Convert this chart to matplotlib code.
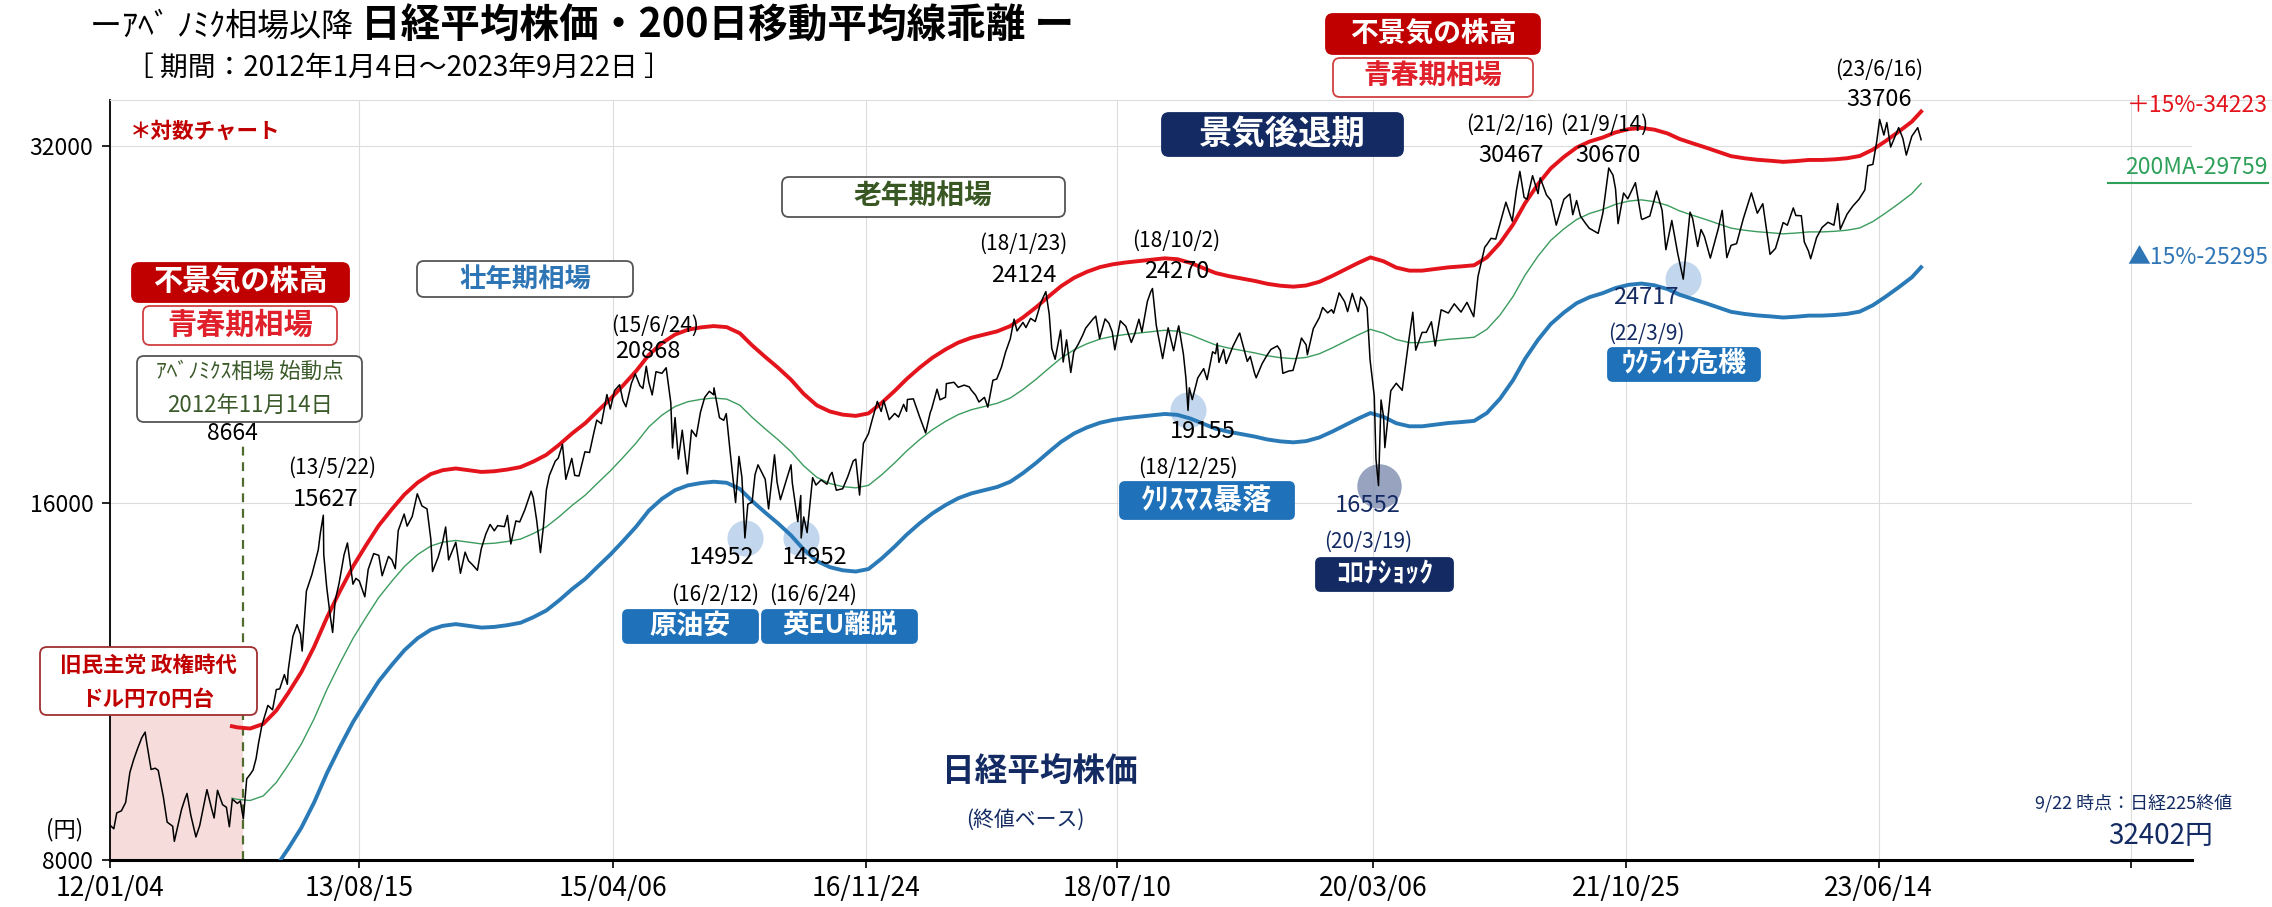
import matplotlib
matplotlib.use('Agg')
import matplotlib.pyplot as plt
import matplotlib.dates as mdates
from matplotlib.patches import FancyBboxPatch
from matplotlib.ticker import NullLocator, NullFormatter
import numpy as np
import pandas as pd

plt.rcParams['font.family'] = ['Noto Sans CJK JP', 'DejaVu Sans']

# ---- data ----
price_dates = [
    '2012-01-04', '2012-01-13', '2012-01-20', '2012-01-31', '2012-02-10', '2012-02-20', '2012-02-29',
    '2012-03-09', '2012-03-19', '2012-03-27', '2012-03-30', '2012-04-10', '2012-04-20', '2012-04-27',
    '2012-05-09', '2012-05-18', '2012-05-31', '2012-06-04', '2012-06-13', '2012-06-21', '2012-06-29',
    '2012-07-04', '2012-07-13', '2012-07-25', '2012-08-03', '2012-08-20', '2012-08-31', '2012-09-06',
    '2012-09-14', '2012-09-26', '2012-10-05', '2012-10-12', '2012-10-19', '2012-10-31', '2012-11-07',
    '2012-11-14', '2012-11-22', '2012-11-30', '2012-12-07', '2012-12-14', '2012-12-20', '2012-12-28',
    '2013-01-11', '2013-01-22', '2013-01-31', '2013-02-08', '2013-02-19', '2013-02-26', '2013-02-28',
    '2013-03-11', '2013-03-21', '2013-03-29', '2013-04-02', '2013-04-12', '2013-04-25', '2013-05-10',
    '2013-05-15', '2013-05-22', '2013-05-23', '2013-05-30', '2013-06-07', '2013-06-13', '2013-06-19',
    '2013-06-28', '2013-07-10', '2013-07-18', '2013-07-31', '2013-08-07', '2013-08-15', '2013-08-28',
    '2013-09-05', '2013-09-18', '2013-09-30', '2013-10-08', '2013-10-23', '2013-10-31', '2013-11-08',
    '2013-11-15', '2013-11-29', '2013-12-06', '2013-12-18', '2013-12-30',
    '2014-01-10', '2014-01-22', '2014-01-31', '2014-02-04', '2014-02-17', '2014-02-28', '2014-03-07',
    '2014-03-14', '2014-03-31', '2014-04-11', '2014-04-22', '2014-04-30', '2014-05-09', '2014-05-21',
    '2014-05-30', '2014-06-10', '2014-06-20', '2014-06-30', '2014-07-08', '2014-07-24', '2014-07-31',
    '2014-08-08', '2014-08-20', '2014-08-29', '2014-09-10', '2014-09-25', '2014-09-30', '2014-10-08',
    '2014-10-17', '2014-10-24', '2014-10-31', '2014-11-07', '2014-11-21', '2014-11-28', '2014-12-08',
    '2014-12-16', '2014-12-30',
    '2015-01-06', '2015-01-16', '2015-01-30', '2015-02-10', '2015-02-20', '2015-02-27', '2015-03-10',
    '2015-03-23', '2015-03-31', '2015-04-10', '2015-04-22', '2015-04-30', '2015-05-07', '2015-05-20',
    '2015-05-29', '2015-06-09', '2015-06-16', '2015-06-24', '2015-06-30', '2015-07-08', '2015-07-17',
    '2015-07-31', '2015-08-10', '2015-08-21', '2015-08-25', '2015-08-31', '2015-09-08', '2015-09-17',
    '2015-09-29', '2015-10-09', '2015-10-20', '2015-10-30', '2015-11-09', '2015-11-20', '2015-11-30',
    '2015-12-01', '2015-12-14', '2015-12-24', '2015-12-30',
    '2016-01-08', '2016-01-21', '2016-01-29', '2016-02-05', '2016-02-12', '2016-02-19', '2016-02-29',
    '2016-03-07', '2016-03-14', '2016-03-31', '2016-04-08', '2016-04-22', '2016-04-28', '2016-05-06',
    '2016-05-18', '2016-05-31', '2016-06-03', '2016-06-16', '2016-06-23', '2016-06-24', '2016-06-30',
    '2016-07-08', '2016-07-21', '2016-07-29', '2016-08-10', '2016-08-24', '2016-08-31', '2016-09-05',
    '2016-09-15', '2016-09-30', '2016-10-12', '2016-10-25', '2016-10-31', '2016-11-09', '2016-11-18',
    '2016-11-30', '2016-12-08', '2016-12-21', '2016-12-30',
    '2017-01-05', '2017-01-18', '2017-01-31', '2017-02-09', '2017-02-21', '2017-02-28', '2017-03-02',
    '2017-03-16', '2017-03-31', '2017-04-14', '2017-04-25', '2017-04-28', '2017-05-11', '2017-05-18',
    '2017-05-31', '2017-06-02', '2017-06-20', '2017-06-30', '2017-07-14', '2017-07-26', '2017-07-31',
    '2017-08-10', '2017-08-18', '2017-08-31', '2017-09-08', '2017-09-20', '2017-09-29', '2017-10-10',
    '2017-10-20', '2017-10-31', '2017-11-09', '2017-11-16', '2017-11-30', '2017-12-07', '2017-12-18',
    '2017-12-29',
    '2018-01-12', '2018-01-23', '2018-01-31', '2018-02-06', '2018-02-14', '2018-02-27', '2018-03-05',
    '2018-03-13', '2018-03-23', '2018-03-30', '2018-04-10', '2018-04-20', '2018-04-27', '2018-05-14',
    '2018-05-21', '2018-05-30', '2018-06-12', '2018-06-21', '2018-06-29', '2018-07-05', '2018-07-18',
    '2018-07-31', '2018-08-13', '2018-08-21', '2018-08-31', '2018-09-07', '2018-09-20', '2018-09-28',
    '2018-10-02', '2018-10-11', '2018-10-26', '2018-11-08', '2018-11-21', '2018-11-30', '2018-12-03',
    '2018-12-14', '2018-12-20', '2018-12-25', '2018-12-28',
    '2019-01-04', '2019-01-17', '2019-01-31', '2019-02-08', '2019-02-21', '2019-02-28', '2019-03-04',
    '2019-03-08', '2019-03-19', '2019-03-25', '2019-04-10', '2019-04-24', '2019-04-26', '2019-05-14',
    '2019-05-21', '2019-05-31', '2019-06-04', '2019-06-18', '2019-06-28', '2019-07-09', '2019-07-24',
    '2019-07-31', '2019-08-06', '2019-08-20', '2019-08-30', '2019-09-10', '2019-09-19', '2019-09-30',
    '2019-10-03', '2019-10-17', '2019-10-31', '2019-11-08', '2019-11-20', '2019-11-29', '2019-12-04',
    '2019-12-17', '2019-12-30',
    '2020-01-06', '2020-01-17', '2020-01-31', '2020-02-06', '2020-02-14', '2020-02-21', '2020-02-28',
    '2020-03-09', '2020-03-13', '2020-03-19', '2020-03-25', '2020-03-31', '2020-04-03', '2020-04-17',
    '2020-04-30', '2020-05-14', '2020-05-29', '2020-06-08', '2020-06-15', '2020-06-30', '2020-07-10',
    '2020-07-22', '2020-07-31', '2020-08-14', '2020-08-31', '2020-09-14', '2020-09-30', '2020-10-14',
    '2020-10-30', '2020-11-09', '2020-11-25', '2020-11-30', '2020-12-10', '2020-12-21', '2020-12-30',
    '2021-01-14', '2021-01-29', '2021-02-08', '2021-02-16', '2021-02-26', '2021-03-05', '2021-03-18',
    '2021-03-31', '2021-04-05', '2021-04-20', '2021-04-30', '2021-05-13', '2021-05-31', '2021-06-14',
    '2021-06-21', '2021-06-30', '2021-07-09', '2021-07-21', '2021-07-30', '2021-08-20', '2021-08-31',
    '2021-09-14', '2021-09-24', '2021-09-30', '2021-10-06', '2021-10-19', '2021-10-29', '2021-11-16',
    '2021-11-30', '2021-12-02', '2021-12-20', '2021-12-30',
    '2022-01-05', '2022-01-18', '2022-01-27', '2022-02-10', '2022-02-24', '2022-03-09', '2022-03-25',
    '2022-03-31', '2022-04-12', '2022-04-20', '2022-04-28', '2022-05-12', '2022-05-31', '2022-06-09',
    '2022-06-20', '2022-06-30', '2022-07-13', '2022-07-29', '2022-08-17', '2022-08-31', '2022-09-13',
    '2022-09-30', '2022-10-13', '2022-10-31', '2022-11-10', '2022-11-24', '2022-11-30', '2022-12-13',
    '2022-12-20', '2022-12-30',
    '2023-01-04', '2023-01-18', '2023-01-31', '2023-02-14', '2023-02-28', '2023-03-09', '2023-03-15',
    '2023-03-31', '2023-04-14', '2023-04-28', '2023-05-12', '2023-05-19', '2023-05-31', '2023-06-09',
    '2023-06-16', '2023-06-26', '2023-07-03', '2023-07-12', '2023-07-31', '2023-08-10', '2023-08-18',
    '2023-08-31', '2023-09-14', '2023-09-22',
]
price_vals = [
    8560, 8500, 8766, 8802, 8947, 9485, 9723,
    9930, 10142, 10255, 10083, 9538, 9561, 9520,
    9045, 8611, 8543, 8295, 8568, 8824, 9006,
    9104, 8724, 8366, 8555, 9171, 8840, 8680,
    9159, 8907, 8863, 8534, 9003, 8928, 8972,
    8664, 9366, 9446, 9527, 9737, 10040, 10395,
    10801, 10710, 11139, 11153, 11468, 11254, 11559,
    12349, 12635, 12398, 12003, 13485, 13926, 14607,
    15096, 15627, 14483, 13589, 12877, 12445, 13245,
    13677, 14472, 14808, 13668, 13824, 13752, 13338,
    14064, 14505, 14456, 13894, 14426, 14328, 14086,
    15166, 15662, 15300, 15586, 16291,
    15912, 15820, 14915, 14009, 14393, 14841, 15274,
    14327, 14828, 13960, 14546, 14304, 14199, 14042,
    14632, 15069, 15349, 15162, 15314, 15284, 15621,
    14778, 15455, 15425, 15789, 16374, 16173, 15478,
    14532, 15291, 16413, 16880, 17357, 17459, 17935,
    16755, 17450,
    16883, 16864, 17674, 17652, 18332, 18797, 18665,
    19754, 19206, 19907, 20133, 19520, 19292, 20196,
    20563, 20096, 19990, 20868, 20236, 19738, 20650,
    20585, 20809, 19436, 17806, 18890, 17427, 18432,
    16931, 18438, 18207, 19083, 19643, 19879, 19747,
    20012, 18884, 18789, 19034,
    17698, 16017, 17518, 16820, 14952, 15967, 16027,
    16911, 17233, 16759, 15821, 17572, 16666, 16106,
    16645, 17235, 16642, 15434, 16238, 14952, 15576,
    15107, 16811, 16569, 16735, 16597, 16887, 16983,
    16405, 16450, 16840, 17365, 17425, 16251, 17967,
    18308, 18765, 19494, 19114,
    19520, 18813, 19041, 18908, 19381, 19119, 19564,
    19590, 18909, 18335, 19079, 19197, 19961, 19553,
    19651, 20177, 20230, 20033, 20118, 20050, 19925,
    19730, 19470, 19646, 19275, 20310, 20356, 20823,
    21457, 22012, 22869, 22351, 22725, 22498, 22902,
    22765,
    23654, 24124, 23098, 21610, 21154, 22390, 21042,
    21968, 20618, 21454, 21795, 22163, 22468, 22866,
    23002, 22018, 22878, 22693, 22305, 21547, 22794,
    22553, 21858, 22219, 22865, 22307, 23675, 24120,
    24270, 22590, 21184, 22487, 21507, 22351, 22574,
    21375, 20392, 19155, 20015,
    19562, 20402, 20773, 20333, 21464, 21385, 21822,
    21025, 21567, 20977, 21688, 22200, 22259, 21067,
    21272, 20601, 20408, 20972, 21276, 21565, 21710,
    21521, 20585, 20677, 20704, 21392, 22044, 21756,
    21341, 22452, 22927, 23392, 23149, 23294, 23135,
    24066, 23657,
    23205, 24041, 23205, 23873, 23688, 23387, 21143,
    19699, 17431, 16552, 19546, 18917, 17820, 19897,
    20193, 19915, 21877, 23178, 21530, 22288, 22290,
    22751, 21710, 23289, 23140, 23559, 23185, 23626,
    22977, 24839, 26297, 26434, 26756, 26714, 27444,
    28698, 27663, 29388, 30467, 28966, 28864, 30216,
    29179, 30089, 29100, 28813, 27448, 28860, 29161,
    28010, 28792, 27940, 27548, 27284, 27013, 28090,
    30670, 30249, 29453, 27528, 29215, 28892, 29808,
    27822, 27753, 27937, 28792,
    29332, 28257, 26170, 27696, 25971, 24717, 28149,
    27821, 26335, 27217, 26848, 25748, 27280, 28246,
    25771, 26393, 26479, 27801, 29222, 28092, 28614,
    25937, 26237, 27587, 27446, 28383, 27969, 27954,
    26568, 26095,
    25717, 26791, 27327, 27602, 27446, 28623, 27229,
    28041, 28493, 28856, 29388, 30808, 30888, 32265,
    33706, 32698, 33500, 31943, 33172, 32473, 31450,
    32619, 33168, 32402,
]

# 200-day moving average, month-end readings
ma_dates = ['2012-10-18'] + [f'{y}-{m:02d}' for y in range(2012, 2024) for m in range(1, 13)
                             if (2012, 10) <= (y, m) <= (2023, 8)] + ['2023-09-22']
ma_vals = [
    9020, 9000, 8980, 9060,
    9300, 9620, 10020, 10520, 11150, 11720, 12300, 12820, 13320, 13750, 14150, 14480,
    14720, 14830, 14880, 14830, 14780, 14800, 14850, 14920, 15080, 15280, 15580, 15930,
    16250, 16620, 17030, 17480, 17980, 18550, 18980, 19300, 19480, 19570, 19620, 19580,
    19350, 18900, 18480, 18100, 17680, 17200, 16820, 16620, 16520, 16480, 16560, 16900,
    17300, 17700, 18100, 18450, 18750, 19000, 19180, 19300, 19420, 19620, 19950, 20350,
    20800, 21200, 21550, 21800, 22000, 22120, 22200, 22260, 22320, 22380, 22340, 22180,
    21950, 21750, 21620, 21520, 21420, 21300, 21220, 21180, 21230, 21380, 21620, 21900,
    22180, 22420, 22250, 21980, 21850, 21850, 21920, 21990, 22030, 22080, 22420, 23050,
    23900, 24900, 25850, 26650, 27250, 27750, 28080, 28300, 28580, 28760, 28830, 28730,
    28520, 28220, 27980, 27760, 27520, 27290, 27180, 27100, 27050, 26990, 27030, 27090,
    27090, 27120, 27180, 27300, 27640, 28100, 28620, 29180,
    29759,
]
BAND = 0.15

tick_dates = ['2012-01-04', '2013-08-15', '2015-04-06', '2016-11-24', '2018-07-10',
              '2020-03-06', '2021-10-25', '2023-06-14', '2025-01-30']
tick_labels = ['12/01/04', '13/08/15', '15/04/06', '16/11/24', '18/07/10',
               '20/03/06', '21/10/25', '23/06/14', '']
y_ticks = [8000, 16000, 32000]

ann_dates = ['2013-05-22', '2015-06-24', '2016-02-12', '2016-06-24', '2018-01-23', '2018-10-02',
             '2018-12-25', '2020-03-19', '2021-02-16', '2021-09-14', '2022-03-09', '2023-06-16']
ann_vals = [15627, 20868, 14952, 14952, 24124, 24270, 19155, 16552, 30467, 30670, 24717, 33706]
ann_text = ['13/5/22', '15/6/24', '16/2/12', '16/6/24', '18/1/23', '18/10/2',
            '18/12/25', '20/3/19', '21/2/16', '21/9/14', '22/3/9', '23/6/16']
low_idx = [2, 3, 6, 7, 10]

# ---- layout (pixels of the 2272x907 picture) ----
W, H = 2272, 907
AX_L, AX_R, AX_B, AX_T = 110, 2192, 860, 100
NAVY = '#132A62'
RED = '#C00000'
BLUE = '#1F72BA'
# value label (x, y), date label (x, y)
ann_pos = [((326, 500), (332, 468)), ((648, 352), (655, 326)), ((722, 557), (715, 595)),
           ((815, 557), (813, 595)), ((1024, 275), (1023, 244)), ((1177, 271), (1176, 241)),
           ((1203, 432), (1188, 468)), ((1368, 506), (1368, 542)), ((1511, 155), (1510, 125)),
           ((1608, 155), (1604, 125)), ((1646, 298), (1646, 334)), ((1879, 99), (1879, 70))]
ann_color = ['black'] * 7 + [NAVY, 'black', 'black', NAVY, 'black']

fig = plt.figure(figsize=(W / 100, H / 100), dpi=100)
ax = fig.add_axes([AX_L / W, 1 - AX_B / H, (AX_R - AX_L) / W, (AX_B - AX_T) / H])

xp = mdates.date2num(pd.to_datetime(price_dates))
ma_ts = [pd.Timestamp(s) + pd.offsets.MonthEnd(0) if len(s) == 7 else pd.Timestamp(s) for s in ma_dates]
xm = mdates.date2num(pd.DatetimeIndex(ma_ts))
ma = np.array(ma_vals, dtype=float)
xa = mdates.date2num(pd.to_datetime(ann_dates))
d0 = mdates.date2num(pd.Timestamp('2012-01-04'))
d_abe = mdates.date2num(pd.Timestamp('2012-11-14'))

# shaded pre-Abenomics period and start line
ax.fill_between([d0, d_abe], 8000, 10900, color='#F7DCDC', lw=0, zorder=0)
ax.vlines(d_abe, 8000, 18000, colors='#4F6B2E', linestyles=(0, (4, 3)), lw=1.6, zorder=2)

ax.plot(xm, ma * (1 + BAND), color='#E3141C', lw=2.8, zorder=3)
ax.plot(xm, ma, color='#3C9C5E', lw=1.0, zorder=3)
ax.plot(xm, ma * (1 - BAND), color='#2A7AB8', lw=2.8, zorder=3)

for i in low_idx:
    big = (i == 7)
    ax.plot(xa[i], ann_vals[i], 'o', ms=32 if big else 26, mec='none',
            color='#7E8DB0' if big else '#B3CDE9', alpha=0.8, zorder=2)

ax.plot(xp, price_vals, color='black', lw=1.1, zorder=4)

ax.set_yscale('log', base=2)
ax.set_ylim(8000, 35000)
ax.set_yticks(y_ticks)
ax.set_yticklabels([str(v) for v in y_ticks])
ax.yaxis.set_minor_locator(NullLocator())
ax.yaxis.set_minor_formatter(NullFormatter())
ax.set_xlim(d0, mdates.date2num(pd.Timestamp('2025-06-23')))
ax.set_xticks(mdates.date2num(pd.to_datetime(tick_dates)))
ax.set_xticklabels(tick_labels)
ax.tick_params(axis='x', length=6, width=1.2, pad=5, labelsize=19)
ax.tick_params(axis='y', length=6, width=1.2, pad=6, labelsize=16.5)
ax.grid(True, color='#DCDCDC', lw=0.8)
ax.set_axisbelow(True)
ax.spines['right'].set_visible(False)
ax.spines['top'].set_color('#DCDCDC')
ax.spines['top'].set_linewidth(0.8)
ax.spines['bottom'].set_linewidth(2.2)
ax.spines['left'].set_linewidth(1.3)

# ---- overlay for boxes and texts, in picture pixels ----
ov = fig.add_axes([0, 0, 1, 1], zorder=10)
ov.set_xlim(0, W)
ov.set_ylim(H, 0)
ov.axis('off')
ov.patch.set_visible(False)


def box(x0, y0, x1, y1, fc, ec, lw=1.3, r=7):
    ov.add_patch(FancyBboxPatch((x0, y0), x1 - x0, y1 - y0, boxstyle=f'round,pad=0,rounding_size={r}',
                                fc=fc, ec=ec, lw=lw, zorder=5))


def txt(x, y, s, size, color='black', weight='normal', ha='center'):
    ov.text(x, y, s, fontsize=size, color=color, fontweight=weight, ha=ha, va='center', zorder=6)


ov.plot([AX_R, W], [AX_T, AX_T], color='#DCDCDC', lw=0.8)

txt(90, 27, 'ーｱﾍﾞ ﾉﾐｸ相場以降', 23, ha='left')
txt(361, 26, '日経平均株価・200日移動平均線乖離 ー', 28.5, weight='bold', ha='left')
txt(126, 68, '［ 期間：2012年1月4日～2023年9月22日 ］', 20, ha='left')
txt(130, 131, '＊対数チャート', 15.5, color=RED, weight='bold', ha='left')
txt(65, 830, '(円)', 16)

box(132, 263, 349, 302, RED, RED)
txt(240, 282, '不景気の株高', 21, 'white', 'bold')
box(143, 306, 337, 345, 'white', '#D04040')
txt(240, 325, '青春期相場', 21, '#E0202A', 'bold')
box(137, 356, 362, 422, 'white', '#555555')
txt(250, 372, 'ｱﾍﾞﾉﾐｸｽ相場 始動点', 15.5, '#3B5A2A')
txt(250, 405, '2012年11月14日', 16, '#3B5A2A')
txt(232, 434, '8664', 16.5)

box(40, 647, 257, 715, 'white', '#A03030')
txt(148, 665, '旧民主党 政権時代', 15.5, RED, 'bold')
txt(148, 699, 'ドル円70円台', 15.5, RED, 'bold')

box(417, 261, 633, 297, 'white', '#555555')
txt(525, 279, '壮年期相場', 19, '#2E75B6', 'bold')
box(782, 177, 1065, 217, 'white', '#555555')
txt(923, 197, '老年期相場', 20, '#385723', 'bold')
box(1162, 113, 1403, 156, NAVY, NAVY)
txt(1282, 134, '景気後退期', 24, 'white', 'bold')
box(1326, 14, 1540, 54, RED, RED)
txt(1433, 34, '不景気の株高', 20, 'white', 'bold')
box(1333, 58, 1533, 97, 'white', '#D04040')
txt(1433, 77, '青春期相場', 20, '#E0202A', 'bold')

box(623, 610, 758, 643, BLUE, BLUE, r=5)
txt(690, 626, '原油安', 19.5, 'white', 'bold')
box(762, 610, 917, 643, BLUE, BLUE, r=5)
txt(840, 626, '英EU離脱', 19, 'white', 'bold')
box(1120, 482, 1294, 519, BLUE, BLUE, r=5)
txt(1207, 500, 'ｸﾘｽﾏｽ暴落', 21, 'white', 'bold')
box(1316, 558, 1453, 591, NAVY, NAVY, r=5)
txt(1385, 574, 'ｺﾛﾅｼｮｯｸ', 20, 'white', 'bold')
box(1608, 348, 1760, 381, BLUE, BLUE, r=5)
txt(1684, 364, 'ｳｸﾗｲﾅ危機', 20, 'white', 'bold')

for (vp, dp), v, t, c in zip(ann_pos, ann_vals, ann_text, ann_color):
    txt(vp[0], vp[1], str(v), 17, c)
    txt(dp[0], dp[1], f'({t})', 15, c)

txt(2268, 105, '＋15%-34223', 16.5, '#E3141C', ha='right')
txt(2268, 167, '200MA-29759', 16.5, '#2FA05A', ha='right')
ov.plot([2108, 2268], [183, 183], color='#2FA05A', lw=1.5)
txt(2268, 257, '▲15%-25295', 16.5, '#2E75B6', ha='right')

txt(1040, 771, '日経平均株価', 23.5, NAVY, 'bold')
txt(1025, 820, '(終値ベース)', 15, NAVY)
txt(2232, 803, '9/22 時点：日経225終値', 13, NAVY, ha='right')
txt(2213, 836, '32402円', 20, NAVY, ha='right')

fig.savefig('out.png', dpi=100, facecolor='white')
